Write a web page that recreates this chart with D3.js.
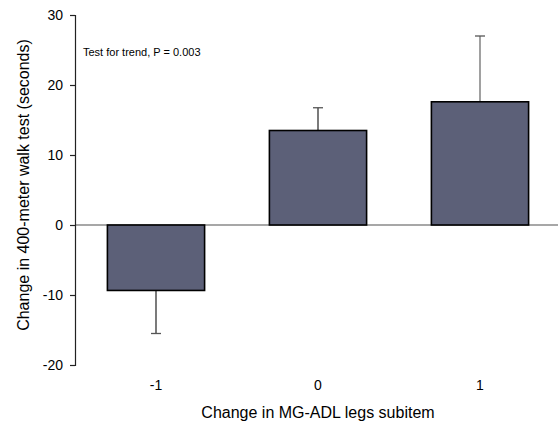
<!DOCTYPE html>
<html>
<head>
<meta charset="utf-8">
<script src="https://cdn.jsdelivr.net/npm/d3@7"></script>
<style>
  body { margin: 0; background: #fff; }
  svg { display: block; font-family: Arial, "Liberation Sans", sans-serif; }
</style>
</head>
<body>
<div id="chart"></div>
<script>
// data
const categories = ["-1", "0", "1"];
const means = [-9.35, 13.5, 17.6];
const errors = [-6.15, 3.25, 9.4];   // one-sided error bars (direction of the bar)
const yTicks = [-20, -10, 0, 10, 20, 30];

const width = 558, height = 422;
const margin = {left: 75, right: -3, top: 15, bottom: 57};

const svg = d3.select("#chart").append("svg")
    .attr("width", width)
    .attr("height", height);

const x = d3.scaleBand()
    .domain(categories)
    .range([margin.left, width - margin.right])
    .paddingInner(0.4)
    .paddingOuter(0.2);

const y = d3.scaleLinear()
    .domain([-20, 30])
    .range([height - margin.bottom, margin.top]);

// zero reference line
svg.append("line")
    .attr("x1", margin.left).attr("x2", width)
    .attr("y1", y(0)).attr("y2", y(0))
    .attr("stroke", "#8a8a8a")
    .attr("stroke-width", 1.5);

// error bars (drawn under bars)
const eb = svg.selectAll(".err")
    .data(categories)
    .enter().append("g")
    .attr("class", "err");

eb.append("line")
    .attr("x1", d => x(d) + x.bandwidth() / 2)
    .attr("x2", d => x(d) + x.bandwidth() / 2)
    .attr("y1", (d, i) => y(means[i]))
    .attr("y2", (d, i) => y(means[i] + errors[i]))
    .attr("stroke", (d, i) => i === 2 ? "#6e6e6e" : "#333")
    .attr("stroke-width", 1.3);

eb.append("line")
    .attr("x1", d => x(d) + x.bandwidth() / 2 - 5)
    .attr("x2", d => x(d) + x.bandwidth() / 2 + 5)
    .attr("y1", (d, i) => y(means[i] + errors[i]))
    .attr("y2", (d, i) => y(means[i] + errors[i]))
    .attr("stroke", "#555")
    .attr("stroke-width", 1.3);

// bars
svg.selectAll(".bar")
    .data(categories)
    .enter().append("rect")
    .attr("class", "bar")
    .attr("x", d => x(d))
    .attr("width", x.bandwidth())
    .attr("y", (d, i) => y(Math.max(0, means[i])))
    .attr("height", (d, i) => Math.abs(y(means[i]) - y(0)))
    .attr("fill", "#5c6078")
    .attr("stroke", "#000")
    .attr("stroke-width", 1.6);

// y axis (plain hyphen for negatives, as in the original)
const yAxis = svg.append("g")
    .attr("transform", `translate(${margin.left},0)`)
    .call(d3.axisLeft(y).tickValues(yTicks).tickFormat(d => String(d))
        .tickSizeOuter(0).tickSize(5).tickPadding(7));
yAxis.select(".domain").attr("stroke", "#222").attr("stroke-width", 1.2);
yAxis.selectAll(".tick line").attr("stroke", "#222").attr("stroke-width", 1.2);
yAxis.selectAll(".tick text")
    .attr("font-size", 14)
    .attr("font-family", "Arial, 'Liberation Sans', sans-serif")
    .attr("fill", "#000");

// x category labels (no axis line)
svg.selectAll(".xlab")
    .data(categories)
    .enter().append("text")
    .attr("class", "xlab")
    .attr("x", d => x(d) + x.bandwidth() / 2)
    .attr("y", 390)
    .attr("text-anchor", "middle")
    .attr("font-size", 14)
    .text(d => d);

// axis titles
svg.append("text")
    .attr("x", 318)
    .attr("y", 418)
    .attr("text-anchor", "middle")
    .attr("font-size", 16)
    .text("Change in MG-ADL legs subitem");

svg.append("text")
    .attr("transform", `translate(29,185) rotate(-90)`)
    .attr("text-anchor", "middle")
    .attr("font-size", 16)
    .text("Change in 400-meter walk test (seconds)");

// annotation
svg.append("text")
    .attr("x", 83)
    .attr("y", 56)
    .attr("font-size", 11)
    .text("Test for trend, P = 0.003");
</script>
</body>
</html>
